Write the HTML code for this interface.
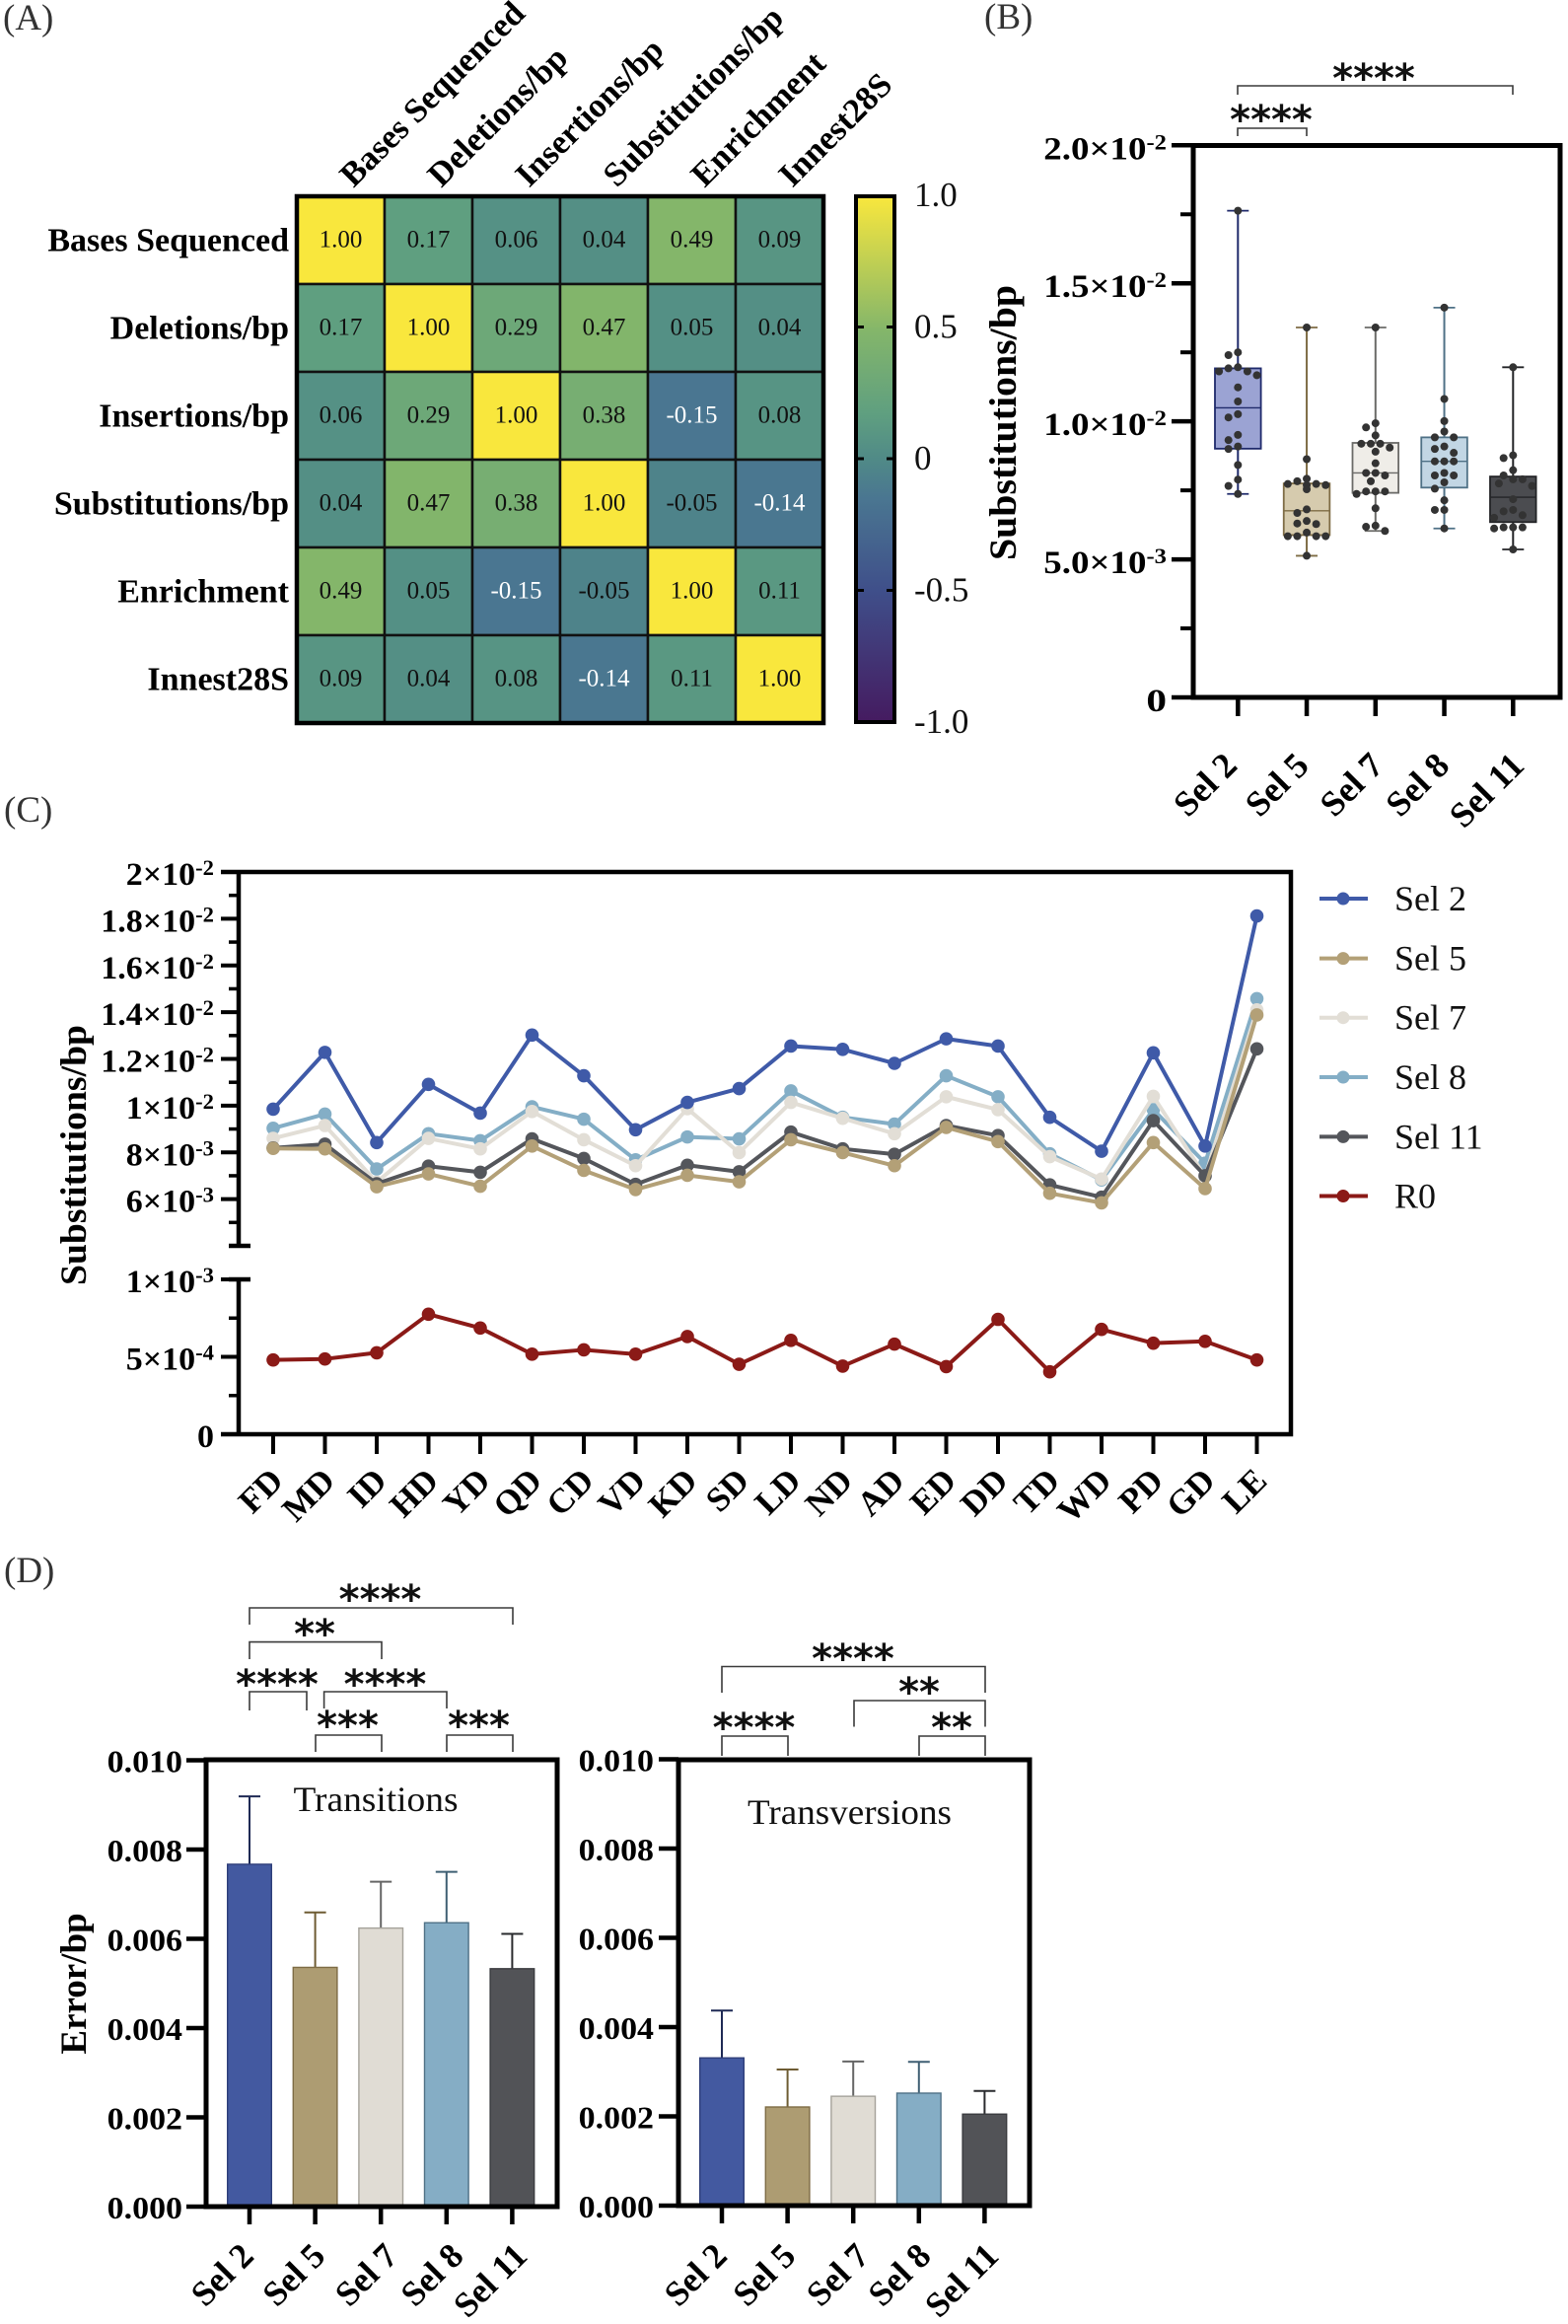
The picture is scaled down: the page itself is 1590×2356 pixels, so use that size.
<!DOCTYPE html>
<html lang="en">
<head>
<meta charset="utf-8">
<title>Substitution and error rates across selection rounds</title>
<style>
html,body{margin:0;padding:0;background:#fff;}
svg{display:block;font-family:"Liberation Serif",serif;}
.bold{font-weight:bold;}
.stars{font-family:"DejaVu Sans",sans-serif;font-weight:bold;font-size:40px;text-anchor:middle;fill:#111;}
.br{fill:none;stroke:#3a3a3a;stroke-width:1.6;}
.panel{font-size:37px;fill:#333;}
.frame{fill:none;stroke:#000;stroke-width:5;}
.legend-text{font-size:36px;fill:#111;}
</style>
</head>
<body>
<svg id="fig" xmlns="http://www.w3.org/2000/svg" width="1590" height="2356" viewBox="0 0 1590 2356">
  <defs>
    <linearGradient id="cbar" x1="0" y1="1" x2="0" y2="0">
      <stop offset="0" stop-color="#451b60"/>
      <stop offset="0.25" stop-color="#3f4f8a"/>
      <stop offset="0.425" stop-color="#4a7691"/>
      <stop offset="0.5" stop-color="#508a87"/>
      <stop offset="0.585" stop-color="#5f9f80"/>
      <stop offset="0.745" stop-color="#84b66a"/>
      <stop offset="1" stop-color="#f9e73d"/>
    </linearGradient>
  </defs>

  <text class="panel" x="3" y="30">(A)</text>
  <text class="panel" x="998" y="29">(B)</text>
  <text class="panel" x="4" y="833">(C)</text>
  <text class="panel" x="4" y="1604">(D)</text>

  <!-- Panel A -->
  <g id="panelA"></g>
  <rect x="868" y="199" width="39" height="533" fill="url(#cbar)" stroke="#000" stroke-width="4"/>
  <g id="panelAcb"></g>

  <!-- Panel B -->
  <text class="bold" x="0" y="0" transform="translate(1030 428.5) rotate(-90)" text-anchor="middle" font-size="39" textLength="279" lengthAdjust="spacingAndGlyphs">Substitutions/bp</text>
  <g id="panelB"></g>
  <rect class="frame" x="1210" y="147.5" width="372" height="559.5"/>
  <path class="br" d="M1255 96V87H1534V96"/>
  <path class="br" d="M1255 138V130H1325V138"/>
  <text class="stars" x="1393" y="93">****</text>
  <text class="stars" x="1289" y="135">****</text>

  <!-- Panel C -->
  <text class="bold" x="0" y="0" transform="translate(87 1171) rotate(-90)" text-anchor="middle" font-size="37" textLength="264" lengthAdjust="spacingAndGlyphs">Substitutions/bp</text>
  <path d="M224 884H1309V1454H224M242 884V1263M242 1297V1454" fill="none" stroke="#000" stroke-width="4.5"/>
  <g id="panelC"></g>
  <g>
    <g><line x1="1338" x2="1387" y1="911" y2="911" stroke="#3f5aa8" stroke-width="4"/><circle cx="1362" cy="911" r="6.5" fill="#3f5aa8"/><text class="legend-text" x="1414" y="923">Sel 2</text></g>
    <g><line x1="1338" x2="1387" y1="971.6" y2="971.6" stroke="#b3a077" stroke-width="4"/><circle cx="1362" cy="971.6" r="6.5" fill="#b3a077"/><text class="legend-text" x="1414" y="983.6">Sel 5</text></g>
    <g><line x1="1338" x2="1387" y1="1031.7" y2="1031.7" stroke="#e2ded6" stroke-width="4"/><circle cx="1362" cy="1031.7" r="6.5" fill="#e2ded6"/><text class="legend-text" x="1414" y="1043.7">Sel 7</text></g>
    <g><line x1="1338" x2="1387" y1="1092" y2="1092" stroke="#84aec6" stroke-width="4"/><circle cx="1362" cy="1092" r="6.5" fill="#84aec6"/><text class="legend-text" x="1414" y="1104">Sel 8</text></g>
    <g><line x1="1338" x2="1387" y1="1152.4" y2="1152.4" stroke="#54565b" stroke-width="4"/><circle cx="1362" cy="1152.4" r="6.5" fill="#54565b"/><text class="legend-text" x="1414" y="1164.4">Sel 11</text></g>
    <g><line x1="1338" x2="1387" y1="1212.5" y2="1212.5" stroke="#8b1a17" stroke-width="4"/><circle cx="1362" cy="1212.5" r="6.5" fill="#8b1a17"/><text class="legend-text" x="1414" y="1224.5">R0</text></g>
  </g>

  <!-- Panel D -->
  <text class="bold" transform="translate(87 2011) rotate(-90)" text-anchor="middle" font-size="37">Error/bp</text>
  <g id="panelD"></g>
  <rect class="frame" x="209" y="1784" width="356" height="453"/>
  <rect class="frame" x="688" y="1784" width="356" height="452"/>
  <text x="381" y="1836" text-anchor="middle" font-size="36" textLength="167" lengthAdjust="spacingAndGlyphs" fill="#111">Transitions</text>
  <text x="861.5" y="1849" text-anchor="middle" font-size="36" textLength="207" lengthAdjust="spacingAndGlyphs" fill="#111">Transversions</text>

  <path class="br" d="M253 1647V1630H520V1647"/>
  <path class="br" d="M253 1682V1664.6H387V1682"/>
  <path class="br" d="M253 1734V1715H311V1734"/>
  <path class="br" d="M328.6 1732V1715H453V1732"/>
  <path class="br" d="M320 1776V1759H387V1776"/>
  <path class="br" d="M453 1776V1759H520V1776"/>
  <text class="stars" x="385.5" y="1635">****</text>
  <text class="stars" x="319" y="1670">**</text>
  <text class="stars" x="281" y="1721">****</text>
  <text class="stars" x="390.5" y="1721">****</text>
  <text class="stars" x="352.5" y="1763">***</text>
  <text class="stars" x="485.5" y="1763">***</text>

  <path class="br" d="M732 1716V1689.5H999V1716"/>
  <path class="br" d="M866 1750.5V1724H999V1750.5"/>
  <path class="br" d="M732 1780V1760H799V1780"/>
  <path class="br" d="M932 1780V1760H999V1780"/>
  <text class="stars" x="865" y="1695">****</text>
  <text class="stars" x="932" y="1729">**</text>
  <text class="stars" x="764.5" y="1765">****</text>
  <text class="stars" x="965" y="1765">**</text>
</svg>

<script>
/* ---------- Panel A data ---------- */
const heatLabels = ['Bases Sequenced','Deletions/bp','Insertions/bp','Substitutions/bp','Enrichment','Innest28S'];
const heatRow0 = [1.00,0.17,0.06,0.04,0.49,0.09];
const heatRow1 = [0.17,1.00,0.29,0.47,0.05,0.04];
const heatRow2 = [0.06,0.29,1.00,0.38,-0.15,0.08];
const heatRow3 = [0.04,0.47,0.38,1.00,-0.05,-0.14];
const heatRow4 = [0.49,0.05,-0.15,-0.05,1.00,0.11];
const heatRow5 = [0.09,0.04,0.08,-0.14,0.11,1.00];
const colorbarValues = [1,0.5,0,-0.5,-1];
const colorbarLabels = ['1.0','0.5','0','-0.5','-1.0'];

/* ---------- Panel B data (units of 1e-3) ---------- */
const groups = ['Sel 2','Sel 5','Sel 7','Sel 8','Sel 11'];
const bTickValues = [0,5,10,15,20];
const bTickMantissa = ['0','5.0×10','1.0×10','1.5×10','2.0×10'];
const bTickExponent = ['','-3','-2','-2','-2'];
const bMinorValues = [2.5,7.5,12.5,17.5];
const boxMin = [7.37,5.13,6.03,6.12,5.36];
const boxQ1 = [9.01,5.88,7.41,7.60,6.35];
const boxMedian = [10.49,6.76,8.13,8.55,7.25];
const boxQ3 = [11.92,7.75,9.22,9.42,8.00];
const boxMax = [17.63,13.40,13.40,14.12,11.96];
const pointsSel2 = [17.63,12.50,12.40,11.96,11.92,11.81,11.81,11.67,11.23,10.72,10.26,10.14,9.51,9.32,9.09,9.00,8.42,7.89,7.66,7.37];
const pointsSel5 = [13.40,8.63,7.92,7.83,7.73,7.73,7.69,7.69,7.54,6.81,6.68,6.39,6.30,6.28,5.97,5.84,5.84,5.84,5.84,5.13];
const pointsSel7 = [13.40,9.93,9.78,9.49,9.19,9.19,9.19,9.05,8.90,8.48,8.13,8.13,8.04,7.83,7.46,7.46,7.46,7.37,6.85,6.22,6.18,6.03];
const pointsSel8 = [14.12,10.81,10.01,9.63,9.42,9.42,9.09,9.00,8.86,8.55,8.55,8.55,8.13,8.04,8.04,7.79,7.56,7.14,6.79,6.79,6.12];
const pointsSel11 = [11.96,8.77,8.67,8.23,8.04,7.90,7.90,7.75,7.66,7.18,6.79,6.74,6.60,6.51,6.16,6.16,6.16,6.12,5.36];
const boxFill = ['#9ba3d3','#d6cbae','#efede8','#c2d6e4','#4b4c50'];
const boxStroke = ['#1f2a6b','#7e6c45','#6b6b68','#4f7186','#222326'];

/* ---------- Panel C data ---------- */
const residues = ['FD','MD','ID','HD','YD','QD','CD','VD','KD','SD','LD','ND','AD','ED','DD','TD','WD','PD','GD','LE'];
const seriesSel2 = [9.85,12.28,8.42,10.91,9.68,13.02,11.28,8.97,10.14,10.73,12.55,12.41,11.81,12.86,12.55,9.50,8.05,12.26,8.27,18.12];
const seriesSel5 = [8.17,8.15,6.53,7.08,6.55,8.27,7.23,6.41,7.02,6.74,8.54,7.99,7.43,9.07,8.46,6.25,5.84,8.42,6.45,13.88];
const seriesSel7 = [8.60,9.15,6.72,8.60,8.15,9.75,8.54,7.43,9.87,7.99,10.14,9.46,8.80,10.38,9.83,7.82,6.86,10.40,6.96,14.10];
const seriesSel8 = [9.03,9.64,7.29,8.80,8.50,9.95,9.42,7.68,8.66,8.58,10.63,9.50,9.21,11.28,10.38,7.94,6.82,9.83,7.54,14.58];
const seriesSel11 = [8.19,8.35,6.66,7.41,7.15,8.58,7.74,6.63,7.45,7.17,8.87,8.15,7.92,9.15,8.72,6.61,6.08,9.36,7.00,12.43];
const seriesR0 = [0.48,0.486,0.526,0.775,0.686,0.517,0.545,0.517,0.631,0.452,0.606,0.44,0.582,0.437,0.742,0.403,0.677,0.588,0.60,0.48];
const cUpperTicks = [6,8,10,12,14,16,18,20];
const cUpperMantissa = ['6×10','8×10','1×10','1.2×10','1.4×10','1.6×10','1.8×10','2×10'];
const cUpperExponent = ['-3','-3','-2','-2','-2','-2','-2','-2'];
const cUpperMinor = [5,7,9,11,13,15,17,19];
const cLowerTicks = [0,0.5,1];
const cLowerMantissa = ['0','5×10','1×10'];
const cLowerExponent = ['','-4','-3'];
const cLowerMinor = [0.25,0.75];

/* ---------- Panel D data ---------- */
const transitionsMean = [0.00767,0.00536,0.00624,0.00636,0.00533];
const transitionsTop = [0.00919,0.00659,0.00728,0.00750,0.00611];
const transversionsMean = [0.00331,0.00221,0.00245,0.00252,0.00205];
const transversionsTop = [0.00437,0.00305,0.00323,0.00322,0.00257];
const dTicks = [0,0.002,0.004,0.006,0.008,0.010];
const dTickLabels = ['0.000','0.002','0.004','0.006','0.008','0.010'];
const barFill = ['#4359a0','#ad9c72','#e0dcd4','#85adc5','#525357'];
const barStroke = ['#2f3f7a','#7e6c45','#a5a29a','#4f7186','#3a3b3f'];
const errStroke = ['#1f2a55','#6e5c33','#666666','#3f5f73','#2a2b2e'];

const NS = 'http://www.w3.org/2000/svg';
function mk(tag, parent, attrs) {
  const n = document.createElementNS(NS, tag);
  for (const k in attrs) n.setAttribute(k, attrs[k]);
  parent.appendChild(n);
  return n;
}
function lerp(a, b, t) { return a + (b - a) * t; }
function hexRgb(h) { return [1,3,5].map(i => parseInt(h.substr(i,2),16)); }

/* colour scale */
function heatColor(v) {
  const dom = [-1,-0.5,-0.15,0,0.17,0.49,1];
  const rng = ['#451b60','#3f4f8a','#4a7691','#508a87','#5f9f80','#84b66a','#f9e73d'];
  let i = 0;
  while (i < dom.length - 2 && v > dom[i + 1]) i++;
  const t = (v - dom[i]) / (dom[i + 1] - dom[i]);
  const a = hexRgb(rng[i]), b = hexRgb(rng[i + 1]);
  return 'rgb(' + a.map((c, k) => Math.round(lerp(c, b[k], t))).join(',') + ')';
}

/* generic y tick label with superscript */
function tickLabel(parent, x, y, mant, exp, size, expSize, sx) {
  const t = mk('text', parent, {
    transform: 'translate(' + x + ' ' + y + ') scale(' + sx + ' 1)',
    'text-anchor': 'end', 'font-size': size, 'font-weight': 'bold'
  });
  t.appendChild(document.createTextNode(mant));
  if (exp) {
    const s = mk('tspan', t, {'font-size': expSize, dy: -Math.round(size * 0.3)});
    s.textContent = exp;
  }
  return t;
}

/* ---------- Panel A ---------- */
(function () {
  const g = document.getElementById('panelA');
  const rows = [heatRow0, heatRow1, heatRow2, heatRow3, heatRow4, heatRow5];
  const cell = 89, x0 = 301, y0 = 199;
  const xA = i => x0 + i * cell;
  const yA = i => y0 + i * cell;
  rows.forEach((row, r) => {
    row.forEach((v, c) => {
      const rc = mk('rect', g, {x: xA(c), y: yA(r), width: cell, height: cell, fill: heatColor(v), stroke: '#111', 'stroke-width': 2.5});
      
      
      const tx = mk('text', g, {x: xA(c) + cell / 2, y: yA(r) + cell / 2 + 7, 'text-anchor': 'middle', 'font-size': 25, fill: v <= -0.1 ? '#fff' : '#111'});
      tx.textContent = v.toFixed(2);
      
      
    });
  });
  const outer = mk('rect', g, {x: x0, y: y0, width: cell * 6, height: cell * 6, fill: 'none', stroke: '#000', 'stroke-width': 4.5});
  
  
  heatLabels.forEach((lab, i) => {
    const rl = mk('text', g, {x: 293, y: yA(i) + cell / 2 + 11, 'text-anchor': 'end', 'font-size': 34, 'font-weight': 'bold'});
    rl.textContent = lab;
    
    
    const cx = xA(i) + cell / 2 + 13, cy = 191;
    const cl = mk('text', g, {transform: 'translate(' + cx + ' ' + cy + ') rotate(-45)', 'font-size': 34.5, 'font-weight': 'bold'});
    cl.textContent = lab;
    
    
  });
  const cb = document.getElementById('panelAcb');
  const yC = v => 465 - v * 267;
  colorbarValues.forEach((v, i) => {
    if (Math.abs(v) < 1) {
      const a = mk('line', cb, {x1: 868, x2: 876, y1: yC(v), y2: yC(v), stroke: '#000', 'stroke-width': 3});
      
      
      const b = mk('line', cb, {x1: 899, x2: 907, y1: yC(v), y2: yC(v), stroke: '#000', 'stroke-width': 3});
      
      
    }
    const t = mk('text', cb, {x: 927, y: yC(v) + 11, 'font-size': 35, fill: '#111'});
    t.textContent = colorbarLabels[i];
    
    
  });
})();

/* ---------- Panel B ---------- */
(function () {
  const g = document.getElementById('panelB');
  const yB = v => 707 - v / 20 * 559.7;
  const xB = i => 1255.3 + i * 69.75;
  const allPoints = [pointsSel2, pointsSel5, pointsSel7, pointsSel8, pointsSel11];
  const swarmSteps = [0,-0.5,0.5,-1,1,-1.5,1.5,-2,2,-2.5,2.5];
  const labelNudge = [1,4,10,7,13];
  bTickValues.forEach((v, i) => {
    const l = mk('line', g, {x1: 1188, x2: 1210, y1: yB(v), y2: yB(v), stroke: '#000', 'stroke-width': 4.5});
    
    
    const t = tickLabel(g, 1183, yB(v) + 14, bTickMantissa[i], bTickExponent[i], 33, 22, i === 0 ? 1.25 : 1.12);
    
    
  });
  bMinorValues.forEach(v => {
    const l = mk('line', g, {x1: 1197, x2: 1210, y1: yB(v), y2: yB(v), stroke: '#000', 'stroke-width': 4});
    
    
  });
  groups.forEach((name, i) => {
    const x = xB(i), hw = 23.3, cap = 11;
    const wh = mk('line', g, {x1: x, x2: x, y1: yB(boxMax[i]), y2: yB(boxMin[i]), stroke: boxStroke[i], 'stroke-width': 2});
    
    
    const c1 = mk('line', g, {x1: x - cap, x2: x + cap, y1: yB(boxMax[i]), y2: yB(boxMax[i]), stroke: boxStroke[i], 'stroke-width': 1.8});
    
    
    const c2 = mk('line', g, {x1: x - cap, x2: x + cap, y1: yB(boxMin[i]), y2: yB(boxMin[i]), stroke: boxStroke[i], 'stroke-width': 1.8});
    
    
    const r = mk('rect', g, {x: x - hw, y: yB(boxQ3[i]), width: hw * 2, height: yB(boxQ1[i]) - yB(boxQ3[i]), fill: boxFill[i], stroke: boxStroke[i], 'stroke-width': 1.8});
    
    
    const m = mk('line', g, {x1: x - hw, x2: x + hw, y1: yB(boxMedian[i]), y2: yB(boxMedian[i]), stroke: boxStroke[i], 'stroke-width': 1.4});
    
    
    const placed = [];
    allPoints[i].forEach(v => {
      const py = yB(v);
      let off = 0;
      for (const s of swarmSteps) {
        const px = s * 9.6;
        if (placed.every(p => Math.hypot(p[0] - px, p[1] - py) >= 8.6)) { off = px; break; }
      }
      placed.push([off, py]);
      const d = mk('circle', g, {cx: x + off, cy: py, r: 4, fill: '#333'});
      
      
    });
    const tk = mk('line', g, {x1: x, x2: x, y1: 707, y2: 726, stroke: '#000', 'stroke-width': 4.5});
    
    
    const lb = mk('text', g, {transform: 'translate(' + (x + labelNudge[i]) + ' 778) rotate(-45)', 'text-anchor': 'end', 'font-size': 36, 'font-weight': 'bold'});
    lb.textContent = name;
    
    
  });
})();

/* ---------- Panel C ---------- */
(function () {
  const g = document.getElementById('panelC');
  const xC = i => 277 + i * 52.5;
  const yU = v => 1263 - (v - 4) / 16 * 379;
  const yL = v => 1454 - v * 157;
  function major(y, i, mantissa, exponent) {
    const l = mk('line', g, {x1: 224, x2: 242, y1: y, y2: y, stroke: '#000', 'stroke-width': 4});
    
    
    const t = tickLabel(g, 217, y + 13, mantissa[i], exponent[i], 33, 22, 1.03);
    
    
  }
  cUpperTicks.forEach((v, i) => major(yU(v), i, cUpperMantissa, cUpperExponent));
  cLowerTicks.forEach((v, i) => major(yL(v), i, cLowerMantissa, cLowerExponent));
  cUpperMinor.forEach(v => {
    const l = mk('line', g, {x1: 232, x2: 242, y1: yU(v), y2: yU(v), stroke: '#000', 'stroke-width': 3.5});
    
    
  });
  cLowerMinor.forEach(v => {
    const l = mk('line', g, {x1: 232, x2: 242, y1: yL(v), y2: yL(v), stroke: '#000', 'stroke-width': 3.5});
    
    
  });
  const capU = mk('line', g, {x1: 232, x2: 254, y1: yU(4), y2: yU(4), stroke: '#000', 'stroke-width': 4.5});
  
  
  const capL = mk('line', g, {x1: 232, x2: 254, y1: yL(1), y2: yL(1), stroke: '#000', 'stroke-width': 4.5});
  
  

  residues.forEach((name, i) => {
    const x = xC(i);
    const tk = mk('line', g, {x1: x, x2: x, y1: 1454, y2: 1474, stroke: '#000', 'stroke-width': 4});
    
    
    const lb = mk('text', g, {transform: 'translate(' + (x + 12) + ' 1503) rotate(-45)', 'text-anchor': 'end', 'font-size': 35, 'font-weight': 'bold'});
    lb.textContent = name;
    
    
  });

  function drawSeries(values, yFn, color) {
    const pts = values.map((v, i) => xC(i) + ',' + yFn(v)).join(' ');
    const pl = mk('polyline', g, {points: pts, fill: 'none', stroke: color, 'stroke-width': 4, 'stroke-linejoin': 'round'});
    
    
    values.forEach((v, i) => {
      const c = mk('circle', g, {cx: xC(i), cy: yFn(v), r: 6.8, fill: color});
      
      
    });
  }
  drawSeries(seriesSel8, yU, '#84aec6');
  drawSeries(seriesSel7, yU, '#e2ded6');
  drawSeries(seriesSel11, yU, '#54565b');
  drawSeries(seriesSel5, yU, '#b3a077');
  drawSeries(seriesSel2, yU, '#3f5aa8');
  drawSeries(seriesR0, yL, '#8b1a17');
})();

/* ---------- Panel D ---------- */
(function () {
  const g = document.getElementById('panelD');
  function chart(mean, top, axisX, firstX, step, bottom, labelRight, nudges) {
    const xD = i => firstX + i * step;
    const yD = v => bottom - v / 0.01 * 452.5;
    dTicks.forEach((v, i) => {
      const l = mk('line', g, {x1: axisX - 20, x2: axisX, y1: yD(v), y2: yD(v), stroke: '#000', 'stroke-width': 4.5});
      
      
      const t = tickLabel(g, labelRight, yD(v) + 12, dTickLabels[i], '', 32, 22, 1.06);
      
      
    });
    groups.forEach((name, i) => {
      const x = xD(i), hw = 22.3, cap = 11;
      const e = mk('line', g, {x1: x, x2: x, y1: yD(top[i]), y2: yD(mean[i]), stroke: errStroke[i], 'stroke-width': 2});
      
      
      const c = mk('line', g, {x1: x - cap, x2: x + cap, y1: yD(top[i]), y2: yD(top[i]), stroke: errStroke[i], 'stroke-width': 2});
      
      
      const r = mk('rect', g, {x: x - hw, y: yD(mean[i]), width: hw * 2, height: yD(0) - yD(mean[i]), fill: barFill[i], stroke: barStroke[i], 'stroke-width': 1.4});
      
      
      const tk = mk('line', g, {x1: x, x2: x, y1: bottom, y2: bottom + 18, stroke: '#000', 'stroke-width': 4.5});
      
      
      const lb = mk('text', g, {transform: 'translate(' + (x + nudges[i]) + ' 2289) rotate(-45)', 'text-anchor': 'end', 'font-size': 35.5, 'font-weight': 'bold'});
      lb.textContent = name;
      
      
    });
  }
  chart(transitionsMean, transitionsTop, 209, 253, 66.6, 2237, 185, [6,12,19,19,17]);
  chart(transversionsMean, transversionsTop, 688, 732, 66.6, 2236, 663, [7,10,18,14,16]);
})();
</script>
</body>
</html>
